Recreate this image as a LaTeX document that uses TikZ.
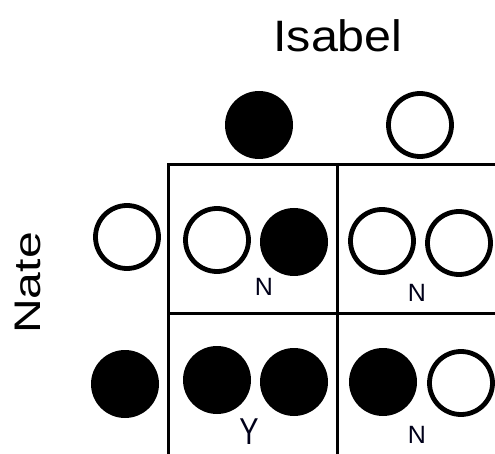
\documentclass[tikz,border=0pt]{standalone}
\usepackage{fontspec}
\setmainfont{Liberation Sans}
\begin{document}
\begin{tikzpicture}[x=1pt,y=-1pt,
  full/.style={circle,fill=black,minimum size=68pt,inner sep=0pt},
  hollow/.style={circle,draw=black,line width=4.8pt,fill=white,minimum size=63pt,inner sep=0pt},
  gridline/.style={line width=3pt,black},
  verdict/.style={inner sep=0pt,text=black!90!blue}]
\useasboundingbox (0,0) rectangle (495,454);
% grid
\coordinate (tl) at (168,165);
\coordinate (tr) at (495,165);
\coordinate (ml) at (168,313);
\coordinate (mr) at (495,313);
\coordinate (bl) at (168,454);
\coordinate (tm) at (337,165);
\coordinate (bm) at (337,454);
\draw[gridline] (tr) -- (tl) -- (bl);
\draw[gridline] (ml) -- (mr);
\draw[gridline] (tm) -- (bm);
% names
\node[inner sep=0pt] (isabel) at (338,36) {\scalebox{1.1}[1]{\fontsize{44}{44}\selectfont Isabel}};
\node[inner sep=0pt,rotate=90] (nate) at (28,283) {\scalebox{1.3}[1]{\fontsize{37}{37}\selectfont Nate}};
% parents
\node[full] (i1) at (259,125) {};
\node[hollow] (i2) at (420,125) {};
\node[hollow] (n1) at (127,237) {};
\node[full] (n2) at (125,384) {};
% cells
\node[hollow] (a1) at (217,240) {};
\node[full] (a2) at (294,242) {};
\node[hollow] (b1) at (382,241) {};
\node[hollow] (b2) at (459,243) {};
\node[full] (c1) at (217,380) {};
\node[full] (c2) at (294,382) {};
\node[full] (d1) at (383,382) {};
\node[hollow] (d2) at (461,383) {};
% verdicts
\node[verdict] (va) at (264,287) {\fontsize{25}{25}\selectfont N};
\node[verdict] (vb) at (417,293) {\fontsize{25}{25}\selectfont N};
\node[verdict] (vc) at (249,432) {\scalebox{0.85}[1.1]{\fontsize{34}{34}\selectfont Y}};
\node[verdict] (vd) at (417,435) {\fontsize{25}{25}\selectfont N};
\end{tikzpicture}
\end{document}
